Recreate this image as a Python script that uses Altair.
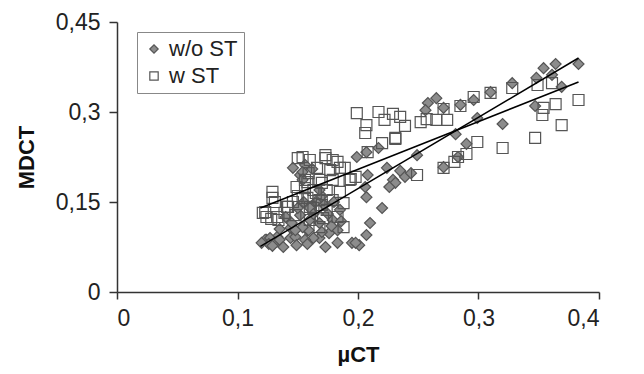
import altair as alt
import pandas as pd

# ---- data ----
wo_x = [0.354, 0.364, 0.383, 0.348, 0.361, 0.369, 0.328, 0.310, 0.296, 0.285, 0.271, 0.265, 0.258, 0.256,
        0.347, 0.320, 0.299, 0.281, 0.290, 0.283, 0.271, 0.249, 0.235, 0.229, 0.239, 0.244, 0.231, 0.226,
        0.199, 0.207, 0.217, 0.146, 0.156, 0.152, 0.208, 0.224, 0.207, 0.220, 0.210, 0.207, 0.183, 0.195,
        0.201, 0.124, 0.133, 0.144, 0.168, 0.185, 0.179, 0.206, 0.198, 0.173, 0.163, 0.158, 0.168, 0.183,
        0.176, 0.154, 0.162, 0.154,
        0.123, 0.127, 0.131, 0.135, 0.138, 0.144, 0.148, 0.149, 0.156, 0.159, 0.154, 0.148, 0.160, 0.145,
        0.152, 0.158, 0.126, 0.129, 0.120,
        0.160, 0.165, 0.170, 0.163, 0.172, 0.155, 0.150, 0.168, 0.175, 0.180, 0.140, 0.135, 0.170, 0.178,
        0.186]
wo_y = [0.373, 0.380, 0.380, 0.357, 0.362, 0.342, 0.348, 0.333, 0.320, 0.312, 0.307, 0.323, 0.315, 0.303,
        0.310, 0.280, 0.290, 0.263, 0.247, 0.225, 0.208, 0.228, 0.202, 0.187, 0.192, 0.198, 0.182, 0.175,
        0.225, 0.233, 0.240, 0.207, 0.212, 0.195, 0.195, 0.207, 0.158, 0.140, 0.115, 0.095, 0.082, 0.082,
        0.078, 0.087, 0.092, 0.107, 0.090, 0.137, 0.120, 0.175, 0.082, 0.075, 0.090, 0.103, 0.115, 0.103,
        0.098, 0.200, 0.205, 0.187,
        0.087, 0.090, 0.082, 0.087, 0.075, 0.090, 0.092, 0.078, 0.087, 0.103, 0.108, 0.103, 0.120, 0.115,
        0.128, 0.080, 0.080, 0.077, 0.082,
        0.140, 0.150, 0.160, 0.130, 0.145, 0.150, 0.140, 0.170, 0.130, 0.150, 0.125, 0.105, 0.100, 0.110,
        0.118]

w_x = [0.349, 0.361, 0.328, 0.310, 0.296, 0.285, 0.271, 0.354, 0.353, 0.364, 0.383, 0.369, 0.347, 0.320,
       0.299, 0.290, 0.283, 0.280, 0.271, 0.249, 0.229, 0.235, 0.239, 0.231, 0.257, 0.265, 0.274, 0.252,
       0.199, 0.217, 0.207, 0.206, 0.222, 0.231, 0.220, 0.208, 0.150, 0.160, 0.173, 0.183, 0.166, 0.189,
       0.198, 0.194, 0.158, 0.170, 0.149, 0.129, 0.129, 0.121, 0.124, 0.133, 0.141,
       0.131, 0.123, 0.128, 0.134, 0.139, 0.148, 0.142, 0.156, 0.159, 0.154, 0.160, 0.154, 0.173, 0.179,
       0.177, 0.185, 0.156, 0.168, 0.179, 0.193, 0.163, 0.174, 0.185, 0.158, 0.168, 0.179, 0.188, 0.163,
       0.174, 0.160, 0.171, 0.183, 0.188, 0.168, 0.146, 0.150, 0.165, 0.170]
w_y = [0.345, 0.348, 0.340, 0.332, 0.325, 0.310, 0.305, 0.307, 0.295, 0.313, 0.320, 0.278, 0.257, 0.240,
       0.250, 0.230, 0.225, 0.217, 0.207, 0.195, 0.297, 0.292, 0.277, 0.255, 0.288, 0.287, 0.287, 0.283,
       0.298, 0.300, 0.278, 0.265, 0.287, 0.257, 0.248, 0.233, 0.223, 0.220, 0.223, 0.217, 0.207, 0.207,
       0.192, 0.188, 0.183, 0.182, 0.175, 0.167, 0.157, 0.132, 0.125, 0.125, 0.142,
       0.150, 0.133, 0.122, 0.120, 0.132, 0.128, 0.142, 0.173, 0.198, 0.157, 0.142, 0.225, 0.228, 0.220,
       0.203, 0.207, 0.187, 0.187, 0.187, 0.187, 0.170, 0.170, 0.167, 0.157, 0.153, 0.153, 0.148, 0.140,
       0.137, 0.120, 0.123, 0.125, 0.108, 0.108, 0.150, 0.160, 0.165, 0.145]

# trend lines (end points)
line_wo_x = [0.119, 0.383]
line_wo_y = [0.076, 0.390]
line_w_x = [0.119, 0.383]
line_w_y = [0.140, 0.350]

series_names = ["w/o ST", "w ST"]
x_ticks = [0, 0.1, 0.2, 0.3, 0.4]
y_ticks = [0, 0.15, 0.3, 0.45]

pts = pd.concat([
    pd.DataFrame({"x": wo_x, "y": wo_y, "series": series_names[0]}),
    pd.DataFrame({"x": w_x, "y": w_y, "series": series_names[1]}),
], ignore_index=True)

lines = pd.concat([
    pd.DataFrame({"x": line_wo_x, "y": line_wo_y, "series": series_names[0]}),
    pd.DataFrame({"x": line_w_x, "y": line_w_y, "series": series_names[1]}),
], ignore_index=True)

FONT = "Liberation Sans"
lab_expr = "replace(datum.label, '.', ',')"

xenc = alt.X("x:Q", scale=alt.Scale(domain=[0, 0.4], nice=False, zero=False),
             axis=alt.Axis(values=x_ticks, format="~g", labelExpr=lab_expr, title="µCT",
                           tickSize=7, labelPadding=8, titlePadding=14))
yenc = alt.Y("y:Q", scale=alt.Scale(domain=[0, 0.45], nice=False, zero=False),
             axis=alt.Axis(values=y_ticks, format="~g", labelExpr=lab_expr, title="MDCT",
                           tickSize=8, labelPadding=9, titlePadding=17))

leg = alt.Legend(title=None, orient="none", legendX=20, legendY=10, strokeColor="#888888",
                 fillColor="white", padding=6, symbolSize=70, symbolStrokeWidth=1.2,
                 labelFont=FONT, labelFontSize=22, labelColor="#222222", rowPadding=5,
                 labelOffset=4, cornerRadius=0)

points = alt.Chart(pts).mark_point(filled=True, opacity=1, strokeWidth=1.2, size=120).encode(
    x=xenc, y=yenc,
    shape=alt.Shape("series:N", scale=alt.Scale(domain=series_names, range=["diamond", "square"]), legend=leg),
    fill=alt.Fill("series:N", scale=alt.Scale(domain=series_names, range=["#8c8c8c", "transparent"]), legend=leg),
    stroke=alt.Stroke("series:N", scale=alt.Scale(domain=series_names, range=["#555555", "#555555"]), legend=leg),
)

trend = alt.Chart(lines).mark_line(color="black", strokeWidth=1.5).encode(
    x="x:Q", y="y:Q", detail="series:N"
)

chart = alt.layer(points, trend).properties(
    width=482, height=270,
    autosize=alt.AutoSizeParams(type="none"),
    padding={"left": 109, "top": 14, "right": 20, "bottom": 74},
).configure_view(stroke=None).configure_axis(
    grid=False, domainColor="#333333", domainWidth=1.5, tickColor="#333333", tickWidth=1.5,
    labelFont=FONT, labelFontSize=23, labelColor="#222222",
    titleFont=FONT, titleFontSize=22, titleFontWeight="bold", titleColor="#111111",
)

chart.save("out.html", embed_options={"renderer": "svg", "actions": False})
